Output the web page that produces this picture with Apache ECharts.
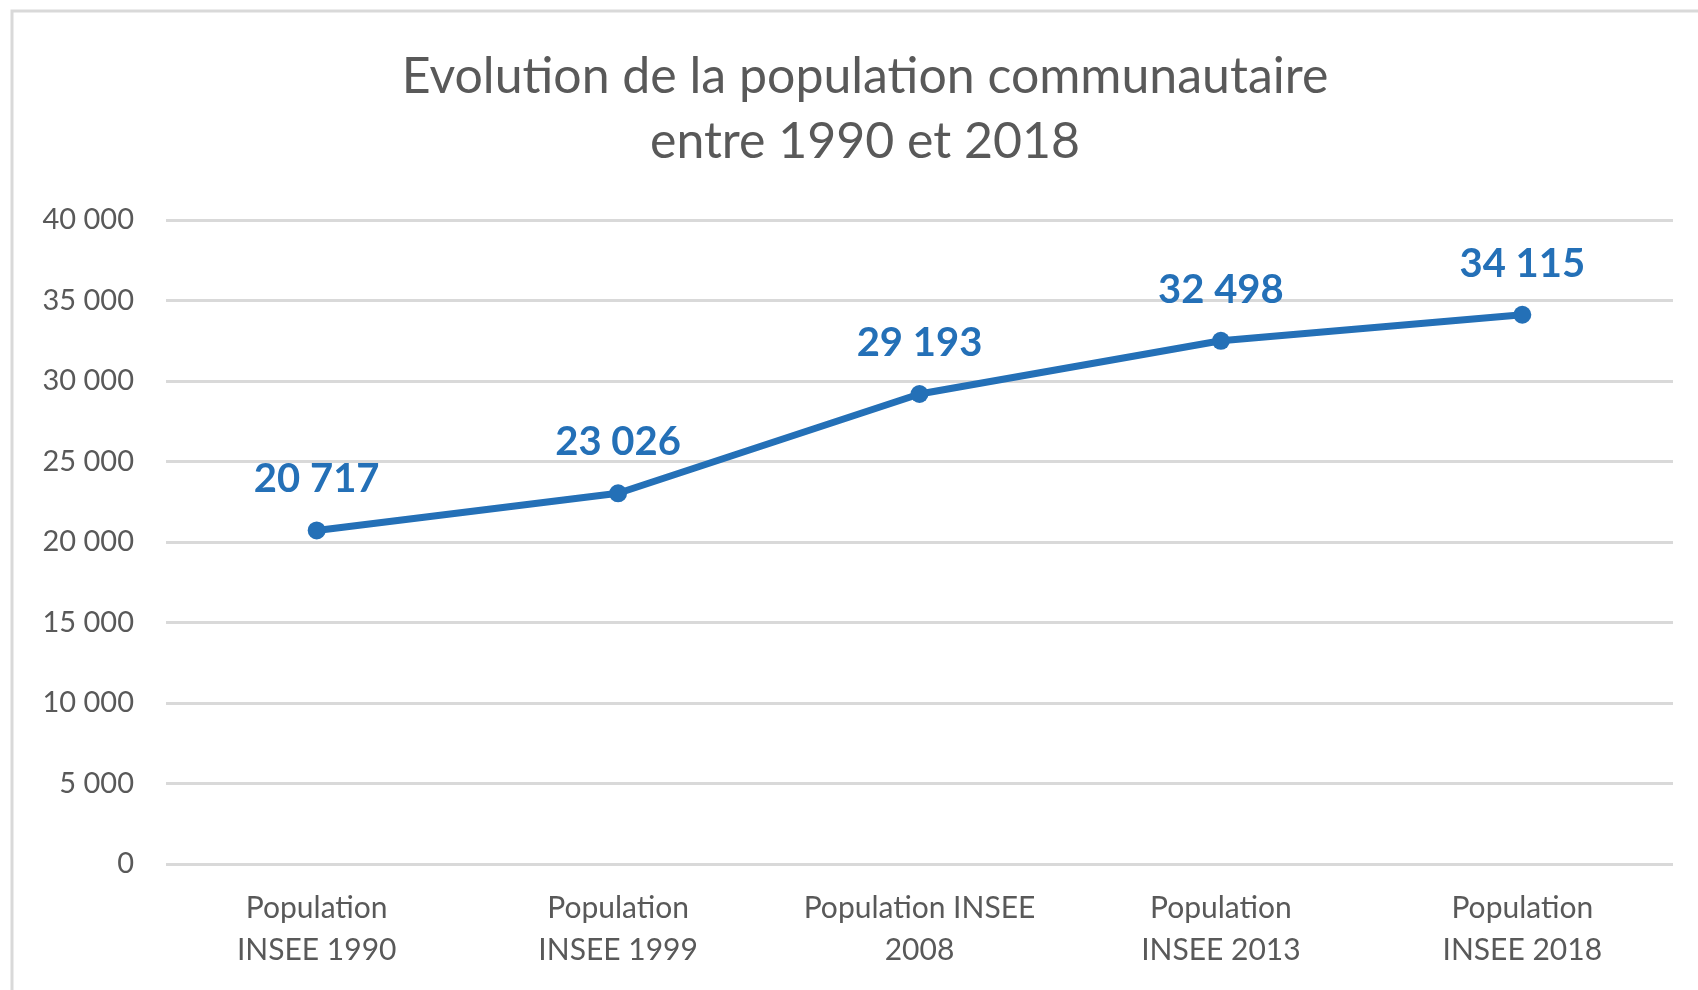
<!DOCTYPE html>
<html>
<head>
<meta charset="utf-8">
<script src="https://cdn.jsdelivr.net/npm/echarts@6/dist/echarts.min.js"></script>
<style>
  html, body { margin: 0; padding: 0; background: #fff; }
  #chart { width: 1698px; height: 990px; }
</style>
</head>
<body>
<div id="chart"></div>
<script>
const categories = [
  'Population\nINSEE 1990',
  'Population\nINSEE 1999',
  'Population INSEE\n2008',
  'Population\nINSEE 2013',
  'Population\nINSEE 2018'
]
const population = [20717, 23026, 29193, 32498, 34115]
const yMin = 0
const yMax = 40000
const yStep = 5000

function spaced(v) {
  return String(v).replace(/\B(?=(\d{3})+(?!\d))/g, ' ')
}

const chart = echarts.init(document.getElementById('chart'))

chart.setOption({
  backgroundColor: '#fff',
  animation: false,
  textStyle: { fontFamily: 'Lato, "Open Sans", sans-serif' },
  graphic: [
    {
      type: 'rect',
      shape: { x: 12, y: 11, width: 2000, height: 2000 },
      style: { fill: 'none', stroke: '#d9d9d9', lineWidth: 3 }
    }
  ],
  title: {
    text: 'Evolution de la population communautaire\nentre 1990 et 2018',
    left: 860,
    textAlign: 'center',
    top: 39,
    textStyle: {
      color: '#595959',
      fontSize: 50,
      fontWeight: 'normal',
      lineHeight: 65,
      fontFamily: 'Lato, "Open Sans", sans-serif'
    }
  },
  grid: { left: 166, right: 25, top: 220, bottom: 126, containLabel: false },
  xAxis: {
    type: 'category',
    data: categories,
    axisLine: { show: false },
    axisTick: { show: false },
    axisLabel: {
      interval: 0,
      color: '#595959',
      fontSize: 30,
      lineHeight: 42,
      margin: 23
    }
  },
  yAxis: {
    type: 'value',
    min: yMin,
    max: yMax,
    interval: yStep,
    axisLine: { show: false },
    axisTick: { show: false },
    axisLabel: {
      color: '#595959',
      fontSize: 29,
      margin: 32,
      formatter: (v) => spaced(v)
    },
    splitLine: { lineStyle: { color: '#d9d9d9', width: 3 } }
  },
  series: [
    {
      type: 'line',
      data: population,
      symbol: 'circle',
      symbolSize: 18,
      lineStyle: { color: '#2470b7', width: 7 },
      itemStyle: { color: '#2470b7' },
      label: {
        show: true,
        position: 'top',
        distance: 22,
        color: '#2470b7',
        fontSize: 40,
        fontWeight: 'bold',
        formatter: (p) => spaced(p.value)
      }
    }
  ]
})
</script>
</body>
</html>
